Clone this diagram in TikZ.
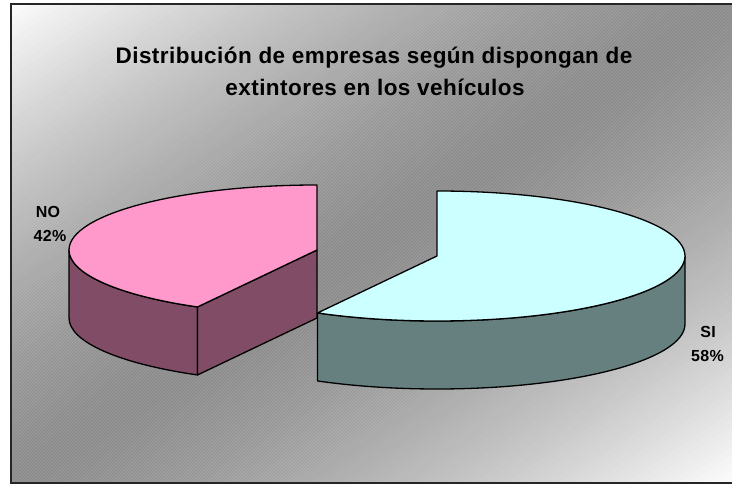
\documentclass[tikz,border=0pt]{standalone}
\usepackage{fontspec}
\setmainfont{Liberation Sans}
\usetikzlibrary{calc}
\definecolor{pinktop}{HTML}{FF99CC}
\definecolor{pinkside}{HTML}{804C66}
\definecolor{cyantop}{HTML}{CCFFFF}
\definecolor{cyanside}{HTML}{668080}
\begin{document}
\begin{tikzpicture}[x=1pt,y=1pt,
  face/.style={draw=black, line width=1.3pt, line join=round},
  ttl/.style={font=\fontsize{22.5}{27}\selectfont\bfseries\addfontfeature{LetterSpace=2}, anchor=base, inner sep=0pt},
  lab/.style={font=\fontsize{16}{18}\selectfont\bfseries\addfontfeature{LetterSpace=2}, anchor=base, inner sep=0pt},
  er/.style={x radius=248, y radius=65}]
\useasboundingbox (0,0) rectangle (732,-486);
\fill[white] (0,0) rectangle (732,-486);
% background: diagonal gradient built from strips, plus fine stripes
\begin{scope}
  \clip (10.5,-4.5) rectangle (732,-483.5);
  \begin{scope}[shift={(371,-244)}, rotate=33.6]
    \foreach \i in {0,...,134} {
      \pgfmathsetmacro{\v}{-405+\i*6}
      \pgfmathsetmacro{\w}{\v+6.8}
      \pgfmathsetmacro{\p}{46*(1-(abs(\v+3)/405)^1.5)}
      \fill[black!\p] (-900,\v) rectangle (900,\w);
    }
  \end{scope}
  \foreach \k in {0,...,390} {
    \pgfmathsetmacro{\x}{-490+\k*3.2}
    \draw[white, line width=0.5pt, opacity=0.18] (\x,-486) -- ++(490,490);
  }
\end{scope}
\draw[line width=2pt, black!85] (745,-4.5) -- (10.5,-4.5) -- (10.5,-483.5) -- (745,-483.5);
% pie geometry
\coordinate (P) at (317,-250);
\coordinate (C) at (437,-256);
\coordinate (Pr) at ($(P)+(241.2:248 and 65)$);
\coordinate (Pl) at ($(P)+(-248,0)$);
\coordinate (Cr) at ($(C)+(241.2:248 and 65)$);
% NO slice
\filldraw[face, fill=pinkside] (Pl) arc[start angle=180, end angle=241.2, er] -- ++(0,-68) arc[start angle=241.2, end angle=180, er] -- cycle;
\filldraw[face, fill=pinkside] (P) -- (Pr) -- ($(Pr)+(0,-68)$) -- ($(P)+(0,-68)$) -- cycle;
\filldraw[face, fill=pinktop] (P) -- ++(0,65) arc[start angle=90, end angle=241.2, er] -- cycle;
% SI slice
\filldraw[face, fill=cyanside] (Cr) arc[start angle=241.2, end angle=360, er] -- ++(0,-68) arc[start angle=360, end angle=241.2, er] -- cycle;
\filldraw[face, fill=cyantop] (C) -- ++(0,65) arc[start angle=90, end angle=-118.8, er] -- cycle;
% texts
\node[ttl] (t1) at (374,-64) {Distribución de empresas según dispongan de};
\node[ttl] (t2) at (375,-96) {extintores en los vehículos};
\node[lab] (no) at (48,-218) {NO};
\node[lab] (nop) at (50,-242) {42\%};
\node[lab] (si) at (708,-338) {SI};
\node[lab] (sip) at (707.5,-362) {58\%};
\end{tikzpicture}
\end{document}
